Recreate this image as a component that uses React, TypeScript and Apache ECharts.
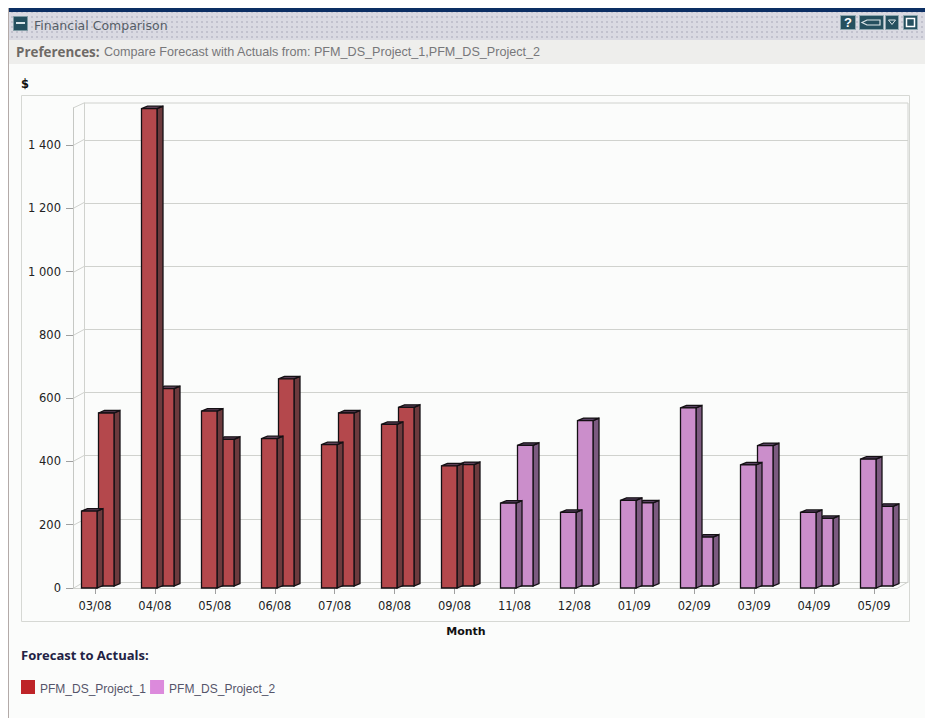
import React, { useEffect, useRef } from "react";
import * as echarts from "echarts";

const months = ["03/08", "04/08", "05/08", "06/08", "07/08", "08/08", "09/08", "11/08", "12/08", "01/09", "02/09", "03/09", "04/09", "05/09"];
const forecast = [243, 1515, 559, 472, 453, 517, 386, 268, 239, 277, 569, 389, 239, 407];
const actuals = [553, 630, 470, 661, 553, 571, 390, 451, 529, 269, 161, 450, 220, 258];
const projectOne = "PFM_DS_Project_1";
const projectTwo = "PFM_DS_Project_2";
// Months 03/08 to 09/08 belong to the first project, the rest to the second.
const projectOneMonths = [0, 1, 2, 3, 4, 5, 6];
const projectTwoMonths = [7, 8, 9, 10, 11, 12, 13];
const yTicks = [0, 200, 400, 600, 800, 1000, 1200, 1400];
const yMax = 1517;

// Plot geometry of the pseudo 3D box.
const plot = { left: 65, right: 904, top: 108, zero: 588, wallL: 73, wallR: 897, dx: 11, dy: 6 };

const palette = {
  red: { front: "#b4484c", side: "#6d3a3d", top: "#5c3f56" },
  purple: { front: "#cb8ecb", side: "#7c5a80", top: "#574060" },
};

const sans = "'Liberation Sans', Arial, sans-serif";
const wide = "'DejaVu Sans', sans-serif";
const button = "#25505f";

type Faces = { front: string; side: string; top: string };

function barFaces(x: number, y: number, base: number, faces: Faces) {
  const w = 15.5;
  const sx = 6;
  const sy = 2.5;
  const stroke = { stroke: "#141014", lineWidth: 1.3 };
  return [
    { type: "polygon", shape: { points: [[x + w, y], [x + w + sx, y - sy], [x + w + sx, base - sy], [x + w, base]] }, style: { fill: faces.side, ...stroke } },
    { type: "polygon", shape: { points: [[x, y], [x + sx, y - sy], [x + w + sx, y - sy], [x + w, y]] }, style: { fill: faces.top, ...stroke } },
    { type: "rect", shape: { x, y, width: w, height: base - y }, style: { fill: faces.front, ...stroke } },
  ];
}

function barRenderer(faces: Faces) {
  return (_params: any, api: any) => {
    const cat = api.value(0);
    const [cx, zero] = api.coord([cat, 0]);
    const forecastY = api.coord([cat, api.value(1)])[1];
    const actualY = api.coord([cat, api.value(2)])[1];
    // The actuals bar stands one step behind the forecast bar.
    return {
      type: "group",
      children: [
        ...barFaces(Math.round(cx) + 3.5, actualY, zero - 2, faces),
        ...barFaces(Math.round(cx) - 13.5, forecastY, zero, faces),
      ],
    };
  };
}

const rowsFor = (ids: number[]) => ids.map((i) => [i, forecast[i], actuals[i]]);

function icon(x: number, w: number, inner: any[]) {
  return {
    type: "group",
    x,
    y: 15,
    z: 3,
    children: [
      { type: "rect", shape: { x: 0.5, y: 0.5, width: w - 1, height: 14 }, style: { fill: button, stroke: "#8fa8b0", lineWidth: 1 } },
      ...inner,
    ],
  };
}

// Tile for the dotted title band.
function dotTile() {
  const c = document.createElement("canvas");
  c.width = 5;
  c.height = 5;
  const g = c.getContext("2d")!;
  g.fillStyle = "#dadae2";
  g.fillRect(0, 0, 5, 5);
  g.fillStyle = "#c2c2ce";
  g.fillRect(1, 1, 2, 2);
  return c;
}

export default function App() {
  const ref = useRef<HTMLDivElement>(null);
  useEffect(() => {
    document.body.style.margin = "0";
    const chart = echarts.init(ref.current!, undefined, { renderer: "svg" });
    const wall = { stroke: "#d0d2ce", lineWidth: 1 };
    const seg = (x1: number, y1: number, x2: number, y2: number) => ({
      type: "line",
      z: 0,
      shape: { x1, y1, x2, y2 },
      style: wall,
    });
    chart.setOption({
      animation: false,
      backgroundColor: "#fbfcfb",
      textStyle: { fontFamily: sans },
      legend: {
        left: 21,
        top: 680,
        padding: 0,
        itemWidth: 14,
        itemHeight: 14,
        itemGap: 4,
        icon: "rect",
        selectedMode: false,
        formatter: "{n|{name}}",
        textStyle: {
          rich: { n: { color: "#55556a", fontSize: 12, fontFamily: sans, padding: [4, 0, 0, 0] } },
        },
        data: [
          { name: projectOne, itemStyle: { color: "#be2428" } },
          { name: projectTwo, itemStyle: { color: "#dc8adc" } },
        ],
      },
      grid: [
        { left: plot.left, top: plot.top, width: plot.right - plot.left, height: plot.zero - plot.top },
        { left: plot.wallL + plot.dx, top: plot.top - plot.dy + 1, width: plot.wallR - plot.wallL, height: plot.zero - plot.top - 1 },
      ],
      xAxis: [
        {
          type: "category",
          gridIndex: 0,
          data: months,
          name: "Month",
          nameLocation: "middle",
          nameGap: 38,
          nameTextStyle: { fontFamily: wide, fontWeight: "bold", fontSize: 11, color: "#111", padding: [0, 37, 0, 0] },
          axisLine: { show: false },
          axisTick: { show: true, alignWithLabel: true, length: 6, lineStyle: { color: "#a0a0a0" } },
          axisLabel: { fontFamily: wide, color: "#222", fontSize: 11.5, margin: 12, interval: 0 },
          splitLine: { show: false },
        },
        {
          type: "category",
          gridIndex: 1,
          data: months,
          axisLine: { show: true, lineStyle: { color: "#d0d2ce" } },
          axisTick: { show: false },
          axisLabel: { show: false },
          splitLine: { show: false },
        },
      ],
      yAxis: [
        {
          type: "value",
          gridIndex: 0,
          min: 0,
          max: yMax,
          offset: -8,
          name: "$",
          nameLocation: "end",
          nameGap: 18,
          nameTextStyle: { fontFamily: wide, fontWeight: "bold", fontSize: 11.5, color: "#111", padding: [0, 96, 0, 0] },
          axisLine: { show: true, lineStyle: { color: "#c6c8c4" } },
          axisTick: { show: true, length: 7, customValues: yTicks, lineStyle: { color: "#a0a0a0" } },
          axisLabel: {
            fontFamily: wide,
            color: "#222",
            fontSize: 11.5,
            margin: 12,
            customValues: yTicks,
            formatter: (v: number) => String(v).replace(/\B(?=(\d{3})+$)/g, " "),
          },
          splitLine: { show: false },
        },
        {
          type: "value",
          gridIndex: 1,
          min: 0,
          max: yMax,
          axisLine: { show: true, lineStyle: { color: "#d0d2ce" } },
          axisTick: { show: false, customValues: yTicks },
          axisLabel: { show: false },
          splitLine: { show: true, lineStyle: { color: "#d0d2ce", width: 1 } },
        },
      ],
      series: [
        {
          name: projectOne,
          type: "custom",
          xAxisIndex: 0,
          yAxisIndex: 0,
          z: 5,
          itemStyle: { color: "#be2428" },
          encode: { x: 0, y: [1, 2] },
          data: rowsFor(projectOneMonths),
          renderItem: barRenderer(palette.red),
        },
        {
          name: projectTwo,
          type: "custom",
          xAxisIndex: 0,
          yAxisIndex: 0,
          z: 5,
          itemStyle: { color: "#dc8adc" },
          encode: { x: 0, y: [1, 2] },
          data: rowsFor(projectTwoMonths),
          renderItem: barRenderer(palette.purple),
        },
      ],
      graphic: [
        // Chart frame and the edges of the box that axes do not cover.
        { type: "rect", z: 0, shape: { x: 21.5, y: 95.5, width: 888, height: 526 }, style: { fill: "transparent", stroke: "#d6d8d4", lineWidth: 1 } },
        seg(plot.wallL, plot.top, plot.wallL + plot.dx, plot.top - plot.dy + 1),
        seg(plot.wallL + plot.dx, plot.top - plot.dy + 1, plot.wallR + plot.dx, plot.top - plot.dy + 1),
        seg(plot.wallR + plot.dx, plot.top - plot.dy + 1, plot.wallR + plot.dx, plot.zero - plot.dy),
        seg(plot.wallR, plot.zero + 0.5, plot.wallR + plot.dx, plot.zero - plot.dy),
        seg(plot.wallL, plot.zero + 0.5, plot.wallR, plot.zero + 0.5),
        seg(plot.wallL, plot.zero + 0.5, plot.wallL + plot.dx, plot.zero - plot.dy),
        ...yTicks.slice(1).map((t) => {
          const y = plot.zero - (t / yMax) * (plot.zero - plot.top);
          return seg(plot.wallL, Math.round(y) + 0.5, plot.wallL + plot.dx, Math.round(y) - plot.dy + 0.5);
        }),
        // Portlet frame, title band and preferences band.
        { type: "rect", z: 0, shape: { x: 0, y: 0, width: 8, height: 718 }, style: { fill: "#ffffff" } },
        { type: "rect", z: 0, shape: { x: 0, y: 0, width: 925, height: 8 }, style: { fill: "#ffffff" } },
        { type: "rect", z: 0, shape: { x: 8, y: 8, width: 1, height: 710 }, style: { fill: "#b3aaa8" } },
        { type: "rect", z: 0, shape: { x: 9, y: 8, width: 916, height: 4 }, style: { fill: "#0c2f63" } },
        { type: "rect", z: 0, shape: { x: 9, y: 12, width: 916, height: 28 }, style: { fill: { image: dotTile(), repeat: "repeat" } } },
        { type: "rect", z: 0, shape: { x: 9, y: 40, width: 916, height: 24 }, style: { fill: "#eeeeec" } },
        { type: "rect", z: 1, shape: { x: 13.5, y: 16.5, width: 14, height: 14 }, style: { fill: button, stroke: "#7f9aa3", lineWidth: 1 } },
        { type: "rect", z: 2, shape: { x: 16, y: 22, width: 9, height: 2 }, style: { fill: "#d8e4e8" } },
        { type: "text", z: 2, x: 34, y: 25, style: { text: "Financial Comparison", fill: "#555d66", font: `12.5px ${wide}`, textVerticalAlign: "middle" } },
        { type: "text", z: 2, x: 16, y: 52, style: { text: "Preferences:", fill: "#6e6a66", font: "bold 13.4px 'Open Sans', sans-serif", textVerticalAlign: "middle" } },
        { type: "text", z: 2, x: 104, y: 52, style: { text: "Compare Forecast with Actuals from: PFM_DS_Project_1,PFM_DS_Project_2", fill: "#77777a", font: `12.6px ${sans}`, textVerticalAlign: "middle" } },
        { type: "text", z: 2, x: 21, y: 655, style: { text: "Forecast to Actuals:", fill: "#222244", font: "bold 13px 'Open Sans', sans-serif", textVerticalAlign: "middle" } },
        // Toolbar buttons on the title band.
        icon(840, 16, [{ type: "text", x: 4, y: 1, style: { text: "?", fill: "#fff", font: `bold 13px ${sans}` } }]),
        icon(859, 25, [
          { type: "polygon", shape: { points: [[3, 7.5], [8, 5], [21, 5], [21, 10], [8, 10]] }, style: { fill: "#25505f", stroke: "#dfe7ea", lineWidth: 1.2 } },
        ]),
        icon(885, 14, [{ type: "polygon", shape: { points: [[3.5, 5], [10.5, 5], [7, 9.5]] }, style: { fill: "#25505f", stroke: "#dfe7ea", lineWidth: 1 } }]),
        icon(903, 15, [{ type: "rect", shape: { x: 3.5, y: 3.5, width: 8, height: 8 }, style: { fill: "#25505f", stroke: "#fff", lineWidth: 1.5 } }]),
      ],
    });
    return () => chart.dispose();
  }, []);
  return <div ref={ref} style={{ width: 925, height: 718 }} />;
}
